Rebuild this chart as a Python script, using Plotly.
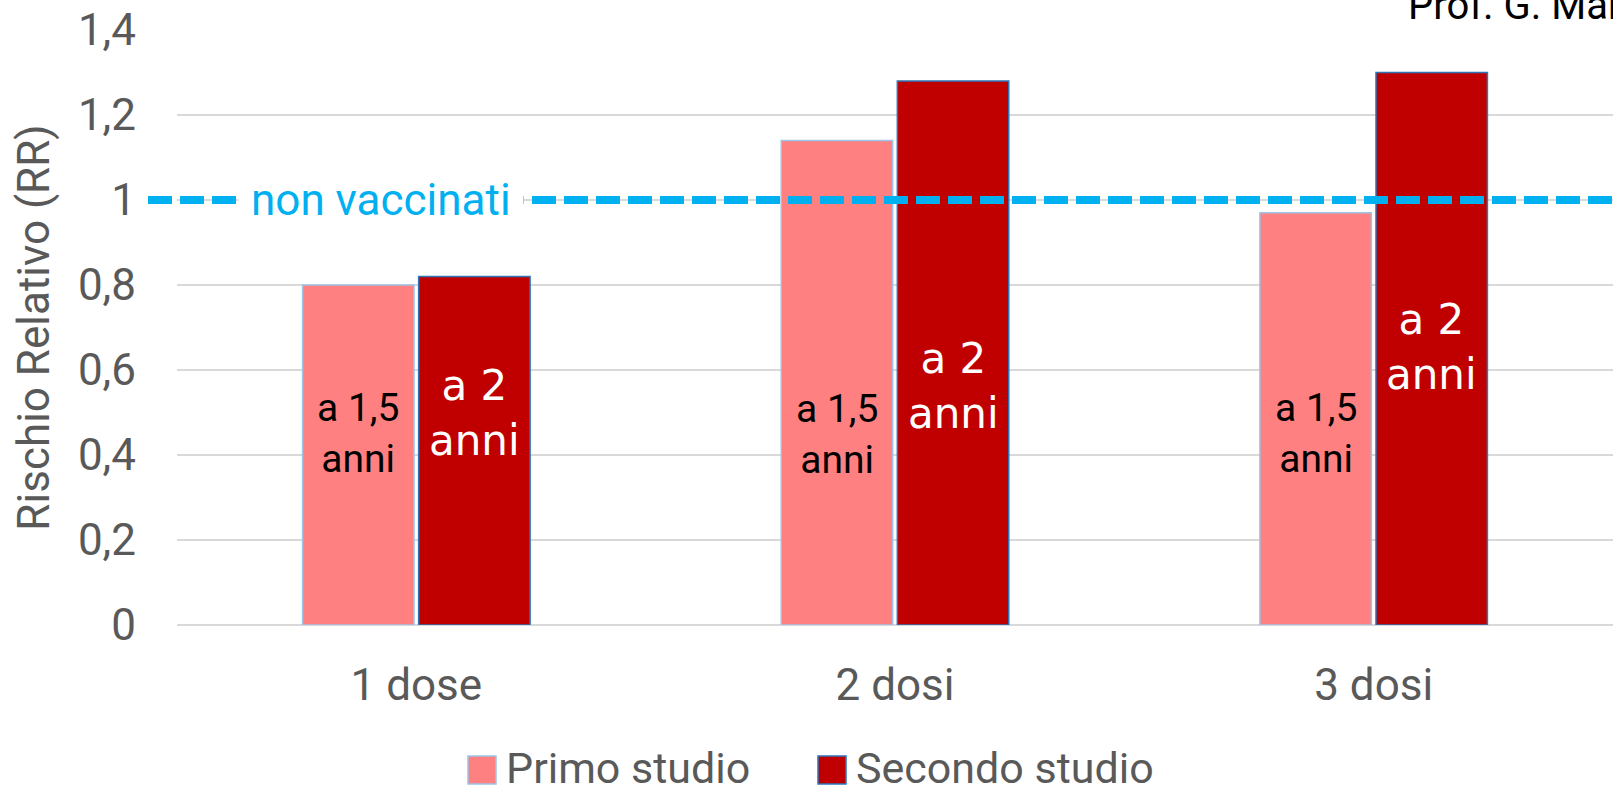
import plotly.graph_objects as go

# ---------------- data ----------------
categories = ["1 dose", "2 dosi", "3 dosi"]
series_names = ["Primo studio", "Secondo studio"]
primo_values = [0.80, 1.14, 0.97]
secondo_values = [0.82, 1.28, 1.30]
primo_labels = ["a 1,5<br>anni", "a 1,5<br>anni", "a 1,5<br>anni"]
secondo_labels = ["a 2<br>anni", "a 2<br>anni", "a 2<br>anni"]
y_tick_values = [0, 0.2, 0.4, 0.6, 0.8, 1.0, 1.2, 1.4]
y_tick_labels = ["0", "0,2", "0,4", "0,6", "0,8", "1", "1,2", "1,4"]
reference_value = 1.0
reference_label = "non vaccinati"
y_title = "Rischio Relativo (RR)"
credit = "Prof. G. Mar"

# ---------------- layout / style ----------------
W, H = 1613, 790
ML, MR, MT, MB = 177, 0, 30, 165
PW, PH = W - ML - MR, H - MT - MB
BARGAP = 0.515
GROUPGAP = 0.04

# label heights (annotation positions, in axis units)
primo_label_y = [0.450, 0.448, 0.450]
secondo_label_y = [0.50, 0.562, 0.654]

GRAY = "#595959"
PRIMO_FILL, PRIMO_LINE = "#FF8080", "#9DC3E6"
SEC_FILL, SEC_LINE = "#C00000", "#2E75B6"
CYAN = "#00B0F0"
FONT = "Roboto"


def px_x(px):
    return (px - ML) / PW


def px_y(py):
    return (H - MB - py) / PH


fig = go.Figure()
fig.add_trace(go.Bar(
    name=series_names[0], x=categories, y=primo_values,
    marker=dict(color=PRIMO_FILL, line=dict(color=PRIMO_LINE, width=1.5)),
    showlegend=False,
))
fig.add_trace(go.Bar(
    name=series_names[1], x=categories, y=secondo_values,
    marker=dict(color=SEC_FILL, line=dict(color=SEC_LINE, width=1.5)),
    showlegend=False,
))

offset = (1 - BARGAP) / 4
annotations = []
for i, cat in enumerate(categories):
    annotations.append(dict(
        x=i - offset, y=primo_label_y[i], xref="x", yref="y",
        text=primo_labels[i], showarrow=False,
        font=dict(family=FONT, size=39, color="#000000"),
        xanchor="center", yanchor="middle",
    ))
    annotations.append(dict(
        x=i + offset, y=secondo_label_y[i], xref="x", yref="y",
        text=secondo_labels[i], showarrow=False,
        font=dict(family="DejaVu Sans", size=42, color="#FFFFFF"),
        xanchor="center", yanchor="middle",
    ))

# reference label (box masks the dashed line)
annotations.append(dict(
    x=px_x(381), y=reference_value, xref="paper", yref="y",
    text=reference_label, showarrow=False,
    font=dict(family=FONT, size=44, color=CYAN),
    bgcolor="#FFFFFF", borderpad=12,
    xanchor="center", yanchor="middle",
))

# credit text top right (partially cut, as in the source slide)
annotations.append(dict(
    x=px_x(1406), y=px_y(6), xref="paper", yref="paper",
    text=credit, showarrow=False,
    font=dict(family=FONT, size=40, color="#000000"),
    xanchor="left", yanchor="middle",
))

# custom legend
legend_items = [
    (series_names[0], PRIMO_FILL, PRIMO_LINE, 468),
    (series_names[1], SEC_FILL, SEC_LINE, 818),
]
shapes = [dict(
    type="line", xref="paper", yref="y",
    x0=px_x(148), x1=1.0, y0=reference_value, y1=reference_value,
    line=dict(color=CYAN, width=8, dash="24px,8px"), layer="above",
)]
for name, fill, line, x0 in legend_items:
    shapes.append(dict(
        type="rect", xref="paper", yref="paper",
        x0=px_x(x0), x1=px_x(x0 + 28), y0=px_y(756), y1=px_y(784),
        fillcolor=fill, line=dict(color=line, width=1.5), layer="above",
    ))
    annotations.append(dict(
        x=px_x(x0 + 36), y=px_y(768), xref="paper", yref="paper",
        text=name, showarrow=False,
        font=dict(family=FONT, size=43, color=GRAY),
        xanchor="left", yanchor="middle",
    ))

fig.update_layout(
    width=W, height=H,
    margin=dict(l=ML, r=MR, t=MT, b=MB, autoexpand=False),
    paper_bgcolor="#FFFFFF", plot_bgcolor="#FFFFFF",
    barmode="group", bargap=BARGAP, bargroupgap=GROUPGAP,
    font=dict(family=FONT, size=44, color=GRAY),
    annotations=annotations, shapes=shapes,
    showlegend=False,
)
fig.update_xaxes(
    range=[-0.5, 2.5], showgrid=False, showline=False, zeroline=False,
    tickfont=dict(family=FONT, size=44, color=GRAY),
    ticklabelstandoff=30,
)
fig.update_yaxes(
    range=[0, 1.4], tickvals=y_tick_values, ticktext=y_tick_labels,
    showgrid=True, gridcolor="#D9D9D9", gridwidth=1.5,
    zeroline=True, zerolinecolor="#D9D9D9", zerolinewidth=1.5,
    showline=False,
    tickfont=dict(family=FONT, size=44, color=GRAY),
    ticklabelstandoff=40,
    title=dict(text=y_title, font=dict(family=FONT, size=44, color=GRAY), standoff=14),
)

fig.write_html("out.html")
